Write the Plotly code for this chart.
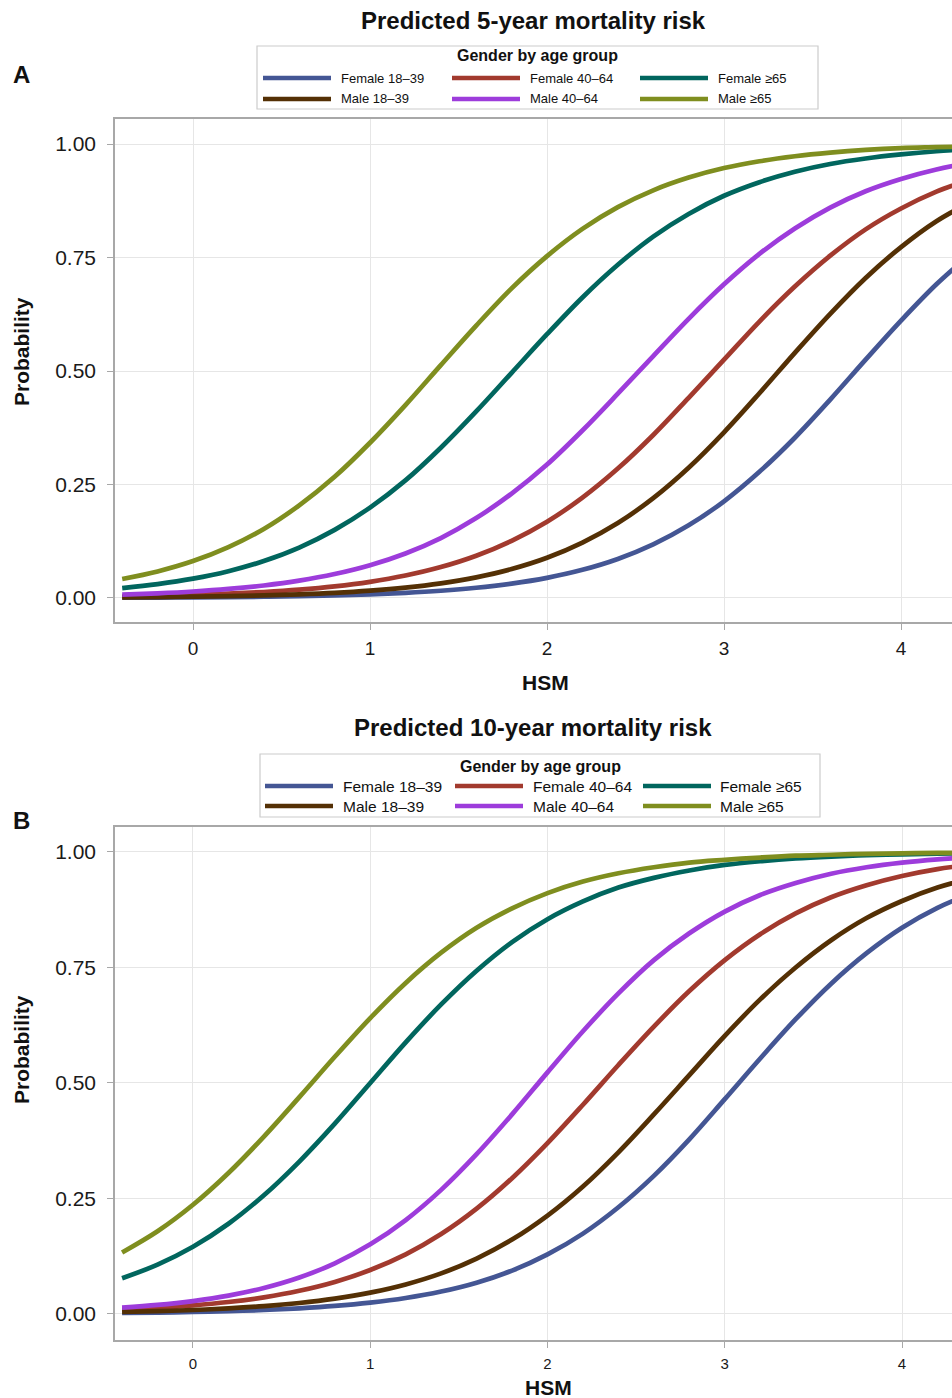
import plotly.graph_objects as go

# ---------------- data ----------------
HSM = [-0.4, -0.2, 0.0, 0.2, 0.4, 0.6, 0.8, 1.0, 1.2, 1.4, 1.6, 1.8, 2.0,
       2.2, 2.4, 2.6, 2.8, 3.0, 3.2, 3.4, 3.6, 3.8, 4.0, 4.2, 4.4]

SERIES = ["Female 18–39", "Female 40–64", "Female ≥65",
          "Male 18–39", "Male 40–64", "Male ≥65"]

# Panel A: predicted 5-year mortality risk
A_female_18_39 = [0.0007, 0.0010, 0.0014, 0.0020, 0.0028, 0.0039, 0.0056, 0.0079, 0.0112,
                  0.0159, 0.0225, 0.0317, 0.0444, 0.0620, 0.0859, 0.118, 0.160, 0.213,
                  0.278, 0.353, 0.437, 0.525, 0.611, 0.691, 0.760]
A_female_40_64 = [0.0034, 0.0048, 0.0067, 0.0094, 0.0132, 0.0184, 0.0256, 0.0356, 0.0494,
                  0.068, 0.093, 0.126, 0.168, 0.221, 0.285, 0.359, 0.441, 0.525,
                  0.609, 0.686, 0.754, 0.812, 0.858, 0.895, 0.923]
A_female_65 = [0.0219, 0.0306, 0.0426, 0.0590, 0.0813, 0.111, 0.150, 0.199, 0.259,
               0.331, 0.411, 0.496, 0.581, 0.662, 0.734, 0.796, 0.846, 0.886,
               0.916, 0.939, 0.956, 0.968, 0.977, 0.984, 0.989]
A_male_18_39 = [0.0014, 0.0019, 0.0028, 0.0039, 0.0056, 0.0080, 0.0113, 0.0161, 0.0228,
                0.0323, 0.0455, 0.0637, 0.0885, 0.122, 0.165, 0.220, 0.287, 0.365,
                0.451, 0.540, 0.626, 0.705, 0.773, 0.830, 0.874]
A_male_40_64 = [0.0073, 0.0103, 0.0143, 0.0199, 0.0276, 0.0382, 0.0527, 0.0722, 0.0981,
                0.132, 0.176, 0.230, 0.294, 0.369, 0.450, 0.533, 0.615, 0.691,
                0.758, 0.814, 0.860, 0.896, 0.923, 0.944, 0.959]
A_male_65 = [0.0418, 0.0585, 0.0813, 0.112, 0.152, 0.204, 0.267, 0.342, 0.425,
             0.513, 0.600, 0.682, 0.753, 0.813, 0.861, 0.898, 0.926, 0.947,
             0.962, 0.973, 0.981, 0.987, 0.991, 0.993, 0.995]

# Panel B: predicted 10-year mortality risk
B_female_18_39 = [0.0021, 0.0030, 0.0043, 0.0061, 0.0086, 0.0123, 0.0174, 0.0246, 0.0346,
                  0.0486, 0.0678, 0.094, 0.129, 0.174, 0.231, 0.299, 0.378, 0.465,
                  0.553, 0.638, 0.715, 0.781, 0.836, 0.879, 0.912]
B_female_40_64 = [0.0094, 0.0132, 0.0185, 0.0259, 0.0361, 0.0502, 0.0693, 0.0951, 0.129,
                  0.173, 0.228, 0.294, 0.370, 0.453, 0.539, 0.622, 0.699, 0.766,
                  0.822, 0.867, 0.902, 0.928, 0.948, 0.963, 0.973]
B_female_65 = [0.0774, 0.1068, 0.1455, 0.1953, 0.257, 0.330, 0.412, 0.500, 0.588,
               0.670, 0.743, 0.805, 0.8545, 0.893, 0.923, 0.944, 0.960, 0.972,
               0.980, 0.986, 0.990, 0.993, 0.995, 0.9965, 0.9976]
B_male_18_39 = [0.0043, 0.0061, 0.0086, 0.0121, 0.0170, 0.0238, 0.0332, 0.0462, 0.0640,
                0.0879, 0.120, 0.161, 0.213, 0.276, 0.350, 0.432, 0.517, 0.602,
                0.681, 0.750, 0.809, 0.857, 0.894, 0.923, 0.944]
B_male_40_64 = [0.0137, 0.0196, 0.0280, 0.0397, 0.0562, 0.0789, 0.1098, 0.1508, 0.2034,
                0.2687, 0.346, 0.432, 0.523, 0.612, 0.694, 0.766, 0.824, 0.871,
                0.907, 0.933, 0.953, 0.967, 0.977, 0.984, 0.989]
B_male_65 = [0.1332, 0.1791, 0.2364, 0.3052, 0.3840, 0.4694, 0.5567, 0.6405, 0.7166,
             0.782, 0.836, 0.878, 0.911, 0.936, 0.954, 0.967, 0.977, 0.983,
             0.988, 0.992, 0.994, 0.996, 0.997, 0.998, 0.9985]

X_TICKS = [0, 1, 2, 3, 4]
Y_TICKS = [0.0, 0.25, 0.5, 0.75, 1.0]
Y_TICKTEXT = ["0.00", "0.25", "0.50", "0.75", "1.00"]

PANEL_TITLES = ["Predicted 5-year mortality risk", "Predicted 10-year mortality risk"]
PANEL_LABELS = ["A", "B"]
LEGEND_TITLE = "Gender by age group"
X_TITLE = "HSM"
Y_TITLE = "Probability"

# ---------------- style ----------------
COLORS = ["#445694", "#A23A2E", "#01665E", "#543005", "#9D3CDB", "#7F8E1F"]
FONT = "Liberation Sans, Arial, Helvetica, sans-serif"
OFF = 0                      # body margin is removed by the post script below
W, H = 952 - OFF, 1398 - OFF
FRAME = "#a8a8a8"
GRID = "#e6e6e6"


def px(x):
    """reference-screen x pixel -> paper fraction"""
    return (x - OFF) / W


def py(y):
    """reference-screen y pixel -> paper fraction"""
    return 1 - (y - OFF) / H


fig = go.Figure()

panels = [
    dict(data=[A_female_18_39, A_female_40_64, A_female_65, A_male_18_39, A_male_40_64, A_male_65],
         xa="x", ya="y"),
    dict(data=[B_female_18_39, B_female_40_64, B_female_65, B_male_18_39, B_male_40_64, B_male_65],
         xa="x2", ya="y2"),
]

for p in panels:
    for name, vals, col in zip(SERIES, p["data"], COLORS):
        fig.add_trace(go.Scatter(
            x=HSM, y=vals, mode="lines", name=name,
            line=dict(color=col, width=4.7, shape="spline"),
            xaxis=p["xa"], yaxis=p["ya"], showlegend=False,
            hoverinfo="skip",
        ))

axis_common = dict(
    showline=True, linecolor=FRAME, linewidth=1.5,
    ticks="outside", ticklen=6, tickcolor=FRAME, tickwidth=1,
    showgrid=True, gridcolor=GRID, gridwidth=1,
    zeroline=False,
)

fig.update_layout(
    width=W, height=H,
    margin=dict(l=0, r=0, t=0, b=0),
    paper_bgcolor="white", plot_bgcolor="white",
    font=dict(family=FONT, color="#1a1a1a"),
    showlegend=False,
    xaxis=dict(domain=[px(115), 1], range=[-0.4407, 4.288], anchor="y", mirror=True,
               tickvals=X_TICKS, tickfont=dict(size=19), ticklabelstandoff=2,
               **axis_common),
    yaxis=dict(domain=[py(622), py(119)], range=[-0.0529, 1.0551], anchor="x",
               tickvals=Y_TICKS, ticktext=Y_TICKTEXT, tickfont=dict(size=21),
               ticklabelstandoff=7,
               **axis_common),
    xaxis2=dict(domain=[px(115), 1], range=[-0.440, 4.282], anchor="y2", mirror=True,
                tickvals=X_TICKS, tickfont=dict(size=15), ticklabelstandoff=3,
                **axis_common),
    yaxis2=dict(domain=[py(1340), py(827)], range=[-0.0563, 1.0541], anchor="x2",
                tickvals=Y_TICKS, ticktext=Y_TICKTEXT, tickfont=dict(size=21),
                ticklabelstandoff=7,
                **axis_common),
)

annotations = []
shapes = []


def label(text, x, y, size, angle=0, anchor="center"):
    annotations.append(dict(text=text, x=px(x), y=py(y), xref="paper", yref="paper",
                            xanchor=anchor, yanchor="middle", showarrow=False,
                            textangle=angle, font=dict(size=size, color="#111")))


# titles, panel letters, axis titles
for title, ty in zip(PANEL_TITLES, [21, 727]):
    label(f"<b>{title}</b>", 533, ty, 24)
for lab, ly in zip(PANEL_LABELS, [74, 820]):
    label(f"<b>{lab}</b>", 21, ly, 24)
label(f"<b>{Y_TITLE}</b>", 21, 352, 21, angle=-90)
label(f"<b>{Y_TITLE}</b>", 21, 1050, 21, angle=-90)
label(f"<b>{X_TITLE}</b>", 545, 683, 21)
label(f"<b>{X_TITLE}</b>", 548, 1387, 21)

# hand-built legends (3 columns x 2 rows) for each panel
legends = [
    dict(box=(257, 46, 818, 109), title_y=56, rows=(78, 99), line_x=(263, 452, 640),
         text_x=(339, 528, 716), size=13, tsize=16),
    dict(box=(260, 754, 820, 817), title_y=766, rows=(786, 806), line_x=(265, 455, 643),
         text_x=(341, 531, 718), size=15.5, tsize=16),
]
for lg in legends:
    x0, y0, x1, y1 = lg["box"]
    shapes.append(dict(type="rect", xref="paper", yref="paper", x0=px(x0), x1=px(x1),
                       y0=py(y0), y1=py(y1), line=dict(color="#cccccc", width=1.2),
                       fillcolor="white", layer="above"))
    label(f"<b>{LEGEND_TITLE}</b>", (x0 + x1) / 2, lg["title_y"], lg["tsize"])
    for i, (name, col) in enumerate(zip(SERIES, COLORS)):
        r, c = divmod(i, 3)
        yy = lg["rows"][r]
        lx = lg["line_x"][c]
        shapes.append(dict(type="line", xref="paper", yref="paper", x0=px(lx), x1=px(lx + 68),
                           y0=py(yy), y1=py(yy), line=dict(color=col, width=4.5), layer="above"))
        label(name, lg["text_x"][c], yy, lg["size"], anchor="left")

fig.update_layout(annotations=annotations, shapes=shapes)

fig.write_html("out.html",
               config={"displayModeBar": False},
               post_script="document.body.style.margin='0';document.body.style.overflow='hidden';")
